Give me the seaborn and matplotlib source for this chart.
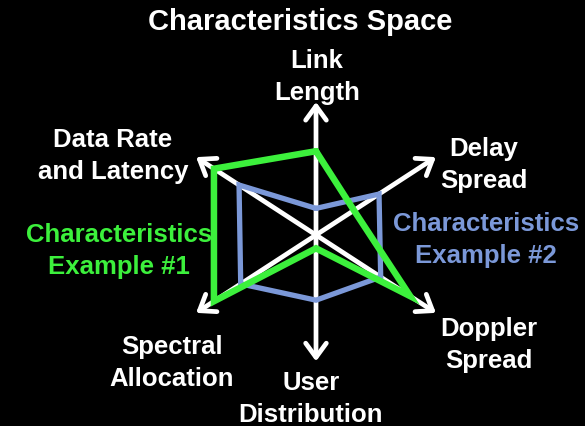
"""
Radar-style characteristics space chart on a black background.
"""

import numpy as np
import matplotlib
matplotlib.use("Agg")
import matplotlib.pyplot as plt
import seaborn as sns

# axes of the characteristics space (clockwise from the top)
categories = ["Link\nLength", "Delay\nSpread", "Doppler\nSpread",
              "User\nDistribution", "Spectral\nAllocation", "Data Rate\nand Latency"]
example_1 = [0.63, 0.34, 0.845, 0.10, 0.915, 0.915]
example_2 = [0.20, 0.565, 0.58, 0.49, 0.675, 0.69]
series_labels = ["Characteristics\nExample #1", "Characteristics\nExample #2"]
title = "Characteristics Space"

# layout / style
angles_deg = [90, 33, -33, -90, -147, 147]
arrow_len = [1.0, 1.075, 1.075, 0.95, 1.075, 1.075]
GREEN = "#3CF03C"
BLUE = "#7B98D8"
W, H = 585, 427

sns.set_theme(style="dark")
plt.rcParams["font.family"] = ["Liberation Sans", "DejaVu Sans"]
plt.rcParams["font.weight"] = "bold"


def px(x, y):
    return x / W, 1 - y / H


fig = plt.figure(figsize=(W / 100, H / 100), dpi=100, facecolor="black")
cx, cy, R = 316, 236, 160
ax = fig.add_axes([(cx - R) / W, (H - cy - R) / H, 2 * R / W, 2 * R / H],
                  projection="polar")
ax.set_facecolor("black")
ax.grid(False)
ax.set_xticks([])
ax.set_yticks([])
ax.spines["polar"].set_visible(False)

theta = np.deg2rad(angles_deg)

# axis arrows
for t, r in zip(theta, arrow_len):
    ax.annotate("", xy=(t, r), xytext=(t, 0),
                arrowprops=dict(arrowstyle="->,head_length=0.85,head_width=0.62",
                                color="white", lw=3.4, shrinkA=0, shrinkB=0),
                zorder=1, annotation_clip=False)

# the two example polygons
t_closed = np.append(theta, theta[0])
for vals, col, lw, z in [(example_2, BLUE, 3.8, 2), (example_1, GREEN, 4.7, 3)]:
    r_closed = np.append(vals, vals[0])
    sns.lineplot(x=t_closed, y=r_closed, sort=False, estimator=None,
                 color=col, lw=lw, ax=ax, zorder=z)
    ax.lines[-1].set_solid_joinstyle("miter")
ax.set(xlabel="", ylabel="")
ax.set_ylim(0, R / 133)

# texts
fs = 18.5
ls = 1.38
fig.text(*px(300, 22), title, color="white", fontsize=21, fontweight="bold",
         ha="center", va="center")
label_pos = [(317, 77), (484, 165), (489, 345), (311, 399), (172, 363), (113, 156)]
for lab, (x, y) in zip(categories, label_pos):
    fig.text(*px(x, y), lab, color="white", fontsize=fs, fontweight="bold",
             ha="center", va="center", multialignment="center", linespacing=ls)

fig.text(*px(119, 251), series_labels[0], color=GREEN, fontsize=fs,
         fontweight="bold", ha="center", va="center", linespacing=ls)
fig.text(*px(486, 240), series_labels[1], color=BLUE, fontsize=fs,
         fontweight="bold", ha="center", va="center", linespacing=ls)

fig.savefig("out.png", dpi=100, facecolor="black")
